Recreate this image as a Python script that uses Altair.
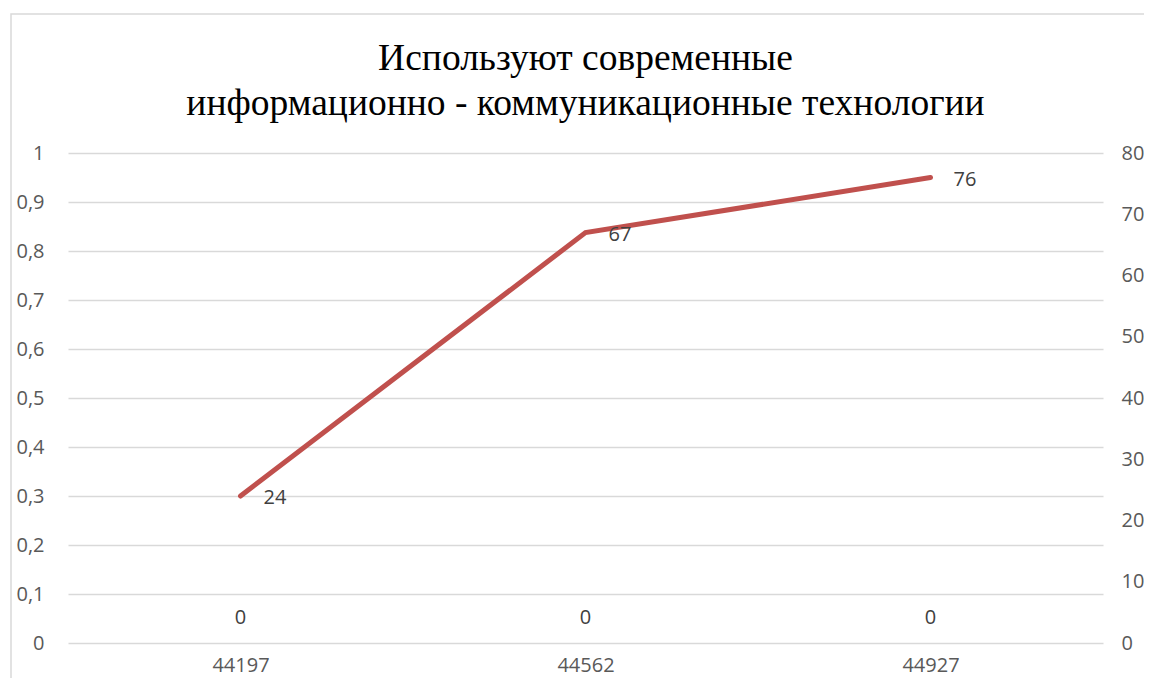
import altair as alt
import pandas as pd

categories = ["44197", "44562", "44927"]
zero_series = [0, 0, 0]
line_values = [24, 67, 76]
left_ticks = [0, 0.1, 0.2, 0.3, 0.4, 0.5, 0.6, 0.7, 0.8, 0.9, 1]
right_ticks = [0, 10, 20, 30, 40, 50, 60, 70, 80]
title_lines = ["Используют современные", "информационно - коммуникационные технологии"]

df = pd.DataFrame({"cat": categories, "zero": zero_series, "val": line_values})

FONT = "Open Sans"
LABEL_COLOR = "#595959"
GRID = "#d9d9d9"
W, H = 1035, 490

x_enc = alt.X("cat:N", sort=categories,
              scale=alt.Scale(type="point", padding=0.5),
              axis=alt.Axis(title=None, labelAngle=0, domain=False, ticks=False,
                            labelPadding=12, labelFontSize=20, labelFont=FONT,
                            labelColor=LABEL_COLOR, grid=False))

base = alt.Chart(df)
one = alt.Chart(pd.DataFrame({"a": [0]}))

frame = one.mark_rect(
    fill="transparent", stroke=GRID, strokeWidth=1.5
).encode(x=alt.value(-57), y=alt.value(-139), x2=alt.value(1300), y2=alt.value(800))

title1 = one.mark_text(text=title_lines[0], font="Liberation Serif", fontSize=37.5,
                       color="black", align="center", baseline="alphabetic").encode(
    x=alt.value(W / 2), y=alt.value(-83))
title2 = one.mark_text(text=title_lines[1], font="Liberation Serif", fontSize=37.5,
                       color="black", align="center", baseline="alphabetic").encode(
    x=alt.value(W / 2), y=alt.value(-38))

zero_text = base.mark_text(font=FONT, fontSize=20, color="#404040", dy=-25).encode(
    x=x_enc,
    y=alt.Y("zero:Q", scale=alt.Scale(domain=[0, 1]),
            axis=alt.Axis(title=None, values=left_ticks, domain=False, ticks=False,
                          labelExpr="replace(format(datum.value, '.1~f'), '.', ',')",
                          labelPadding=24, labelFontSize=20, labelFont=FONT,
                          labelColor=LABEL_COLOR, grid=True, gridColor=GRID,
                          gridWidth=1.5)),
    text=alt.Text("zero:Q"),
)

line_y = alt.Y("val:Q", scale=alt.Scale(domain=[0, 80]),
               axis=alt.Axis(title=None, orient="right", values=right_ticks, domain=False,
                             ticks=False, labelPadding=18, labelFontSize=20, labelFont=FONT,
                             labelColor=LABEL_COLOR, grid=False))

line = base.mark_line(color="#C0504D", strokeWidth=5, strokeCap="round").encode(
    x=x_enc, y=line_y)

line_text = base.mark_text(font=FONT, fontSize=20, color="#404040", align="left",
                           baseline="middle", dx=23, dy=2).encode(
    x=x_enc, y=line_y, text=alt.Text("val:Q"))

left_layer = alt.layer(frame, title1, title2, zero_text)
right_layer = alt.layer(line, line_text)

chart = alt.layer(left_layer, right_layer).resolve_scale(y="independent").properties(
    width=W, height=H,
    background="white",
    autosize=alt.AutoSizeParams(type="none"),
    padding={"left": 60, "top": 145, "right": 41, "bottom": 35},
).configure_view(stroke="transparent", strokeWidth=0)

chart.save("out.html", embed_options={"renderer": "svg", "actions": False})
